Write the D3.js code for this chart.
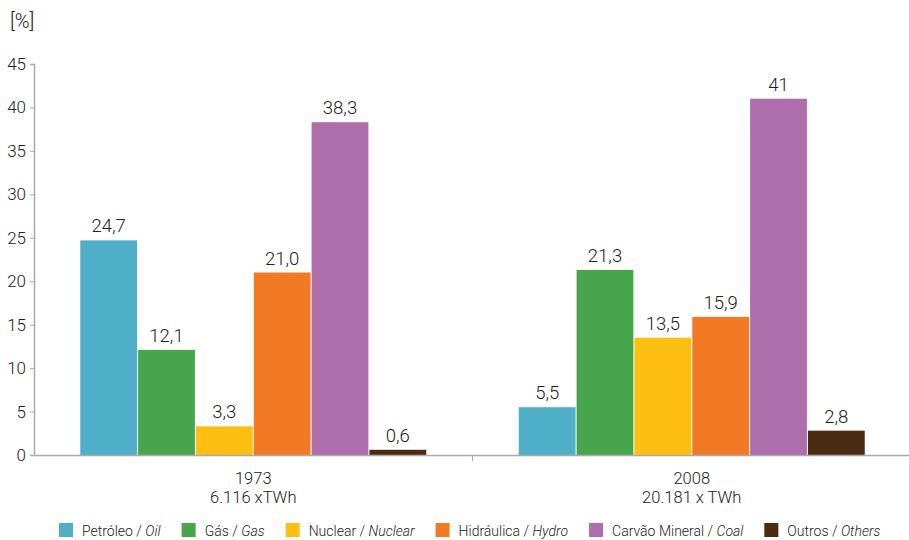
<!DOCTYPE html>
<html>
<head>
<meta charset="utf-8">
<script src="https://cdn.jsdelivr.net/npm/d3@7"></script>
<style>
  body { margin: 0; background: #fff; }
  svg { display: block; font-family: Roboto, "Open Sans", sans-serif; font-weight: 300; }
</style>
</head>
<body>
<svg id="chart" width="909" height="540"></svg>
<script>
// ---- data ----
const years = ["1973", "2008"];
const yearTotals = ["6.116 xTWh", "20.181 x TWh"];
const sources = ["Petróleo", "Gás", "Nuclear", "Hidráulica", "Carvão Mineral", "Outros"];
const sourcesEn = ["Oil", "Gas", "Nuclear", "Hydro", "Coal", "Others"];
const values1973 = [24.7, 12.1, 3.3, 21.0, 38.3, 0.6];
const values2008 = [5.5, 21.3, 13.5, 15.9, 41, 2.8];
const labels1973 = ["24,7", "12,1", "3,3", "21,0", "38,3", "0,6"];
const labels2008 = ["5,5", "21,3", "13,5", "15,9", "41", "2,8"];
const yTicks = [0, 5, 10, 15, 20, 25, 30, 35, 40, 45];
const colors = ["#4fafc8", "#47a64c", "#fdc010", "#f27a24", "#ad6eab", "#4a2c13"];

const seriesByYear = [values1973, values2008];
const labelsByYear = [labels1973, labels2008];

const svg = d3.select("#chart");
const textColor = "#222222";
const axisColor = "#aaaaaa";

const x0 = 34, x1 = 911, yTop = 64, yBase = 455;

const y = d3.scaleLinear().domain([0, 45]).range([yBase, yTop]);
const xYear = d3.scaleBand().domain(years).range([x0, x1]).paddingInner(0).paddingOuter(0);
const xSrc = d3.scaleBand().domain(sources).range([0, xYear.bandwidth()]).paddingInner(0.018).paddingOuter(0.8);

// y axis
const yAxis = d3.axisLeft(y).tickValues(yTicks).tickSize(4).tickPadding(4).tickFormat(d3.format("d"));
const gy = svg.append("g").attr("transform", `translate(${x0},0)`).call(yAxis);
gy.select(".domain").attr("stroke", axisColor).attr("stroke-width", 1.5);
gy.selectAll(".tick line").attr("stroke", axisColor);
gy.selectAll(".tick text").attr("fill", textColor).style("font-size", "17px")
  .style("font-family", "Roboto, sans-serif").style("font-weight", 300);

// unit label
svg.append("text").attr("x", 10).attr("y", 28).attr("fill", textColor)
  .style("font-size", "20px").text("[%]");

// bars
const groups = svg.selectAll("g.year").data(years).enter().append("g")
  .attr("class", "year")
  .attr("transform", d => `translate(${xYear(d)},0)`);

groups.each(function(yr, gi) {
  const g = d3.select(this);
  const vals = seriesByYear[gi];
  const labs = labelsByYear[gi];
  g.selectAll("rect").data(sources).enter().append("rect")
    .attr("x", d => xSrc(d))
    .attr("width", xSrc.bandwidth())
    .attr("y", (d, i) => y(vals[i]))
    .attr("height", (d, i) => y(0) - y(vals[i]))
    .attr("fill", (d, i) => colors[i]);
  g.selectAll("text.val").data(sources).enter().append("text")
    .attr("class", "val")
    .attr("x", d => xSrc(d) + xSrc.bandwidth() / 2)
    .attr("y", (d, i) => y(vals[i]) - 8)
    .attr("text-anchor", "middle")
    .attr("fill", textColor)
    .style("font-size", "18.5px")
    .text((d, i) => labs[i]);
});

// x axis
const xAxis = d3.axisBottom(xYear).tickSize(0).tickFormat("");
const gx = svg.append("g").attr("transform", `translate(0,${yBase})`).call(xAxis);
gx.select(".domain").attr("stroke", axisColor).attr("stroke-width", 1.5);
// separator tick between categories
svg.append("line")
  .attr("x1", xYear(years[1])).attr("x2", xYear(years[1]))
  .attr("y1", yBase).attr("y2", yBase + 6)
  .attr("stroke", axisColor).attr("stroke-width", 1.2);

// category labels
years.forEach((yr, i) => {
  const cx = xYear(yr) + xYear.bandwidth() / 2;
  const t = svg.append("text").attr("text-anchor", "middle").attr("fill", textColor)
    .style("font-size", "16.5px");
  t.append("tspan").attr("x", cx).attr("y", 484).text(yr);
  t.append("tspan").attr("x", cx).attr("y", 503).text(yearTotals[i]);
});

// legend
const legend = svg.append("g").attr("class", "legend");
let lx = 59;
sources.forEach((s, i) => {
  const item = legend.append("g");
  item.append("rect").attr("x", lx).attr("y", 523).attr("width", 14).attr("height", 14)
    .attr("fill", colors[i]);
  const t = item.append("text").attr("x", lx + 23).attr("y", 536).attr("fill", textColor)
    .style("font-size", "14px");
  t.append("tspan").text(s + " / ");
  t.append("tspan").style("font-style", "italic").text(sourcesEn[i]);
  const w = t.node().getComputedTextLength();
  lx = lx + 23 + w + 21;
});
</script>
</body>
</html>
